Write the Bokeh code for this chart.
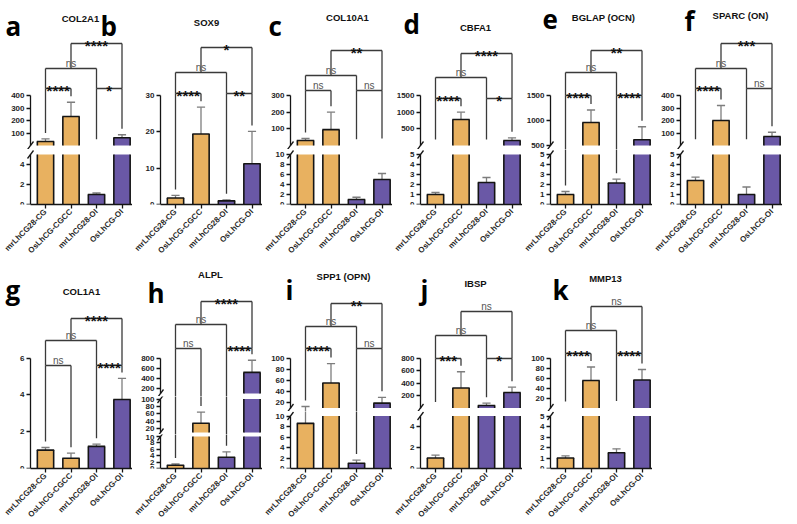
import math
from bokeh.plotting import figure
from bokeh.models import Range1d, FixedTicker, Label, Arrow
from bokeh.layouts import row, column
from bokeh.embed import file_html
from bokeh.resources import INLINE

# ---------------- data ----------------
groups = ["mrLhCG28-CG", "OsLhCG-CGCC", "mrLhCG28-OI", "OsLhCG-OI"]
genes = ["COL2A1", "SOX9", "COL10A1", "CBFA1", "BGLAP (OCN)", "SPARC (ON)",
         "COL1A1", "ALPL", "SPP1 (OPN)", "IBSP", "MMP13"]
letters = ["a", "b", "c", "d", "e", "f", "g", "h", "i", "j", "k"]
comparisons = [(0, 1), (2, 3), (0, 2), (1, 3)]
comparison_level = [0, 0, 1, 2]

col2a1_mean = [32, 232, 1.0, 62]
col2a1_sd = [21, 114, 0.15, 24]
col2a1_sig = ["****", "*", "ns", "****"]

sox9_mean = [1.8, 19.4, 1.0, 11.2]
sox9_sd = [0.7, 7.4, 0.3, 8.9]
sox9_sig = ["****", "**", "ns", "*"]

col10a1_mean = [30, 95, 1.0, 5.0]
col10a1_sd = [12, 105, 0.45, 1.2]
col10a1_sig = ["ns", "ns", "ns", "**"]

cbfa1_mean = [1.0, 780, 2.2, 150]
cbfa1_sd = [0.2, 220, 0.5, 80]
cbfa1_sig = ["****", "*", "ns", "****"]

bglap_mean = [1.0, 960, 2.15, 615]
bglap_sd = [0.3, 250, 0.38, 260]
bglap_sig = ["****", "****", "ns", "**"]

sparc_mean = [2.4, 200, 1.0, 72]
sparc_sd = [0.33, 120, 0.75, 34]
sparc_sig = ["****", "ns", "ns", "***"]

col1a1_mean = [1.0, 0.56, 1.2, 3.75]
col1a1_sd = [0.14, 0.27, 0.12, 1.14]
col1a1_sig = ["ns", "****", "ns", "****"]

alpl_mean = [1.0, 35, 3.5, 516]
alpl_sd = [0.4, 30, 1.7, 240]
alpl_sig = ["ns", "****", "ns", "****"]

spp1_mean = [8.6, 55, 1.0, 18.7]
spp1_sd = [4.1, 35, 0.6, 10.5]
spp1_sig = ["****", "ns", "ns", "**"]

ibsp_mean = [1.0, 320, 40, 249]
ibsp_sd = [0.28, 260, 37, 85]
ibsp_sig = ["***", "*", "ns", "ns"]

mmp13_mean = [1.0, 55, 1.5, 56]
mmp13_sd = [0.2, 27, 0.37, 21]
mmp13_sig = ["****", "****", "ns", "ns"]

means = [col2a1_mean, sox9_mean, col10a1_mean, cbfa1_mean, bglap_mean, sparc_mean,
         col1a1_mean, alpl_mean, spp1_mean, ibsp_mean, mmp13_mean]
sds = [col2a1_sd, sox9_sd, col10a1_sd, cbfa1_sd, bglap_sd, sparc_sd,
       col1a1_sd, alpl_sd, spp1_sd, ibsp_sd, mmp13_sd]
sigs = [col2a1_sig, sox9_sig, col10a1_sig, cbfa1_sig, bglap_sig, sparc_sig,
        col1a1_sig, alpl_sig, spp1_sig, ibsp_sig, mmp13_sig]

# axis segments per panel (value ranges + tick values), bottom segment first
axis_segments = [
    [(0, 5, [0, 2, 4]), (0, 400, [100, 200, 300, 400])],
    [(0, 30, [0, 10, 20, 30])],
    [(0, 10, [0, 2, 4, 6, 8, 10]), (0, 300, [100, 200, 300])],
    [(0, 5, [0, 1, 2, 3, 4, 5]), (0, 1500, [500, 1000, 1500])],
    [(0, 5, [0, 1, 2, 3, 4, 5]), (500, 1500, [500, 1000, 1500])],
    [(0, 5, [0, 1, 2, 3, 4, 5]), (0, 400, [100, 200, 300, 400])],
    [(0, 6, [0, 2, 4, 6])],
    [(0, 10, [0, 2, 4, 6, 8, 10]), (10, 100, [20, 40, 60, 80, 100]), (100, 800, [200, 400, 600, 800])],
    [(0, 10, [0, 2, 4, 6, 8, 10]), (10, 100, [20, 40, 60, 80, 100])],
    [(0, 5, [0, 2, 4]), (0, 800, [200, 400, 600, 800])],
    [(0, 5, [0, 1, 2, 3, 4, 5]), (0, 100, [20, 40, 60, 80, 100])],
]

# ---------------- layout (pixel positions in the page) ----------------
ORANGE = "#e8b160"
PURPLE = "#6a58a6"
bar_colors = [ORANGE, ORANGE, PURPLE, PURPLE]
ERR = "#7d7d7d"
BRK = "#3a3a3a"
INK = "#151515"
FONT = "Liberation Sans"

PXU = 25.5          # px per bar slot
FRAME_W = 102       # width from the y axis to the right end of the x axis
XS = -15 / PXU
XE = XS + FRAME_W / PXU
BW = 0.64
CAP = 0.16

ROWS = [dict(top=0, zero=204, border=56), dict(top=260, zero=467, border=50)]


def col_canvas_left(c):
    return 0 if c == 0 else 132 + (c - 1) * 130


def col_border(c):
    return 30 if c == 0 else 28


layout = [
    dict(col=0, row=0, spans=[(204, 154), (145, 95)], splits=[149], levels=[88, 68, 43], title=(80, 18), letter=(5, 25)),
    dict(col=1, row=0, spans=[(204, 95)], splits=[], levels=[93, 72, 47], title=(206, 22), letter=(100, 25)),
    dict(col=2, row=0, spans=[(204, 154), (145, 95)], splits=[149], levels=[90, 75, 50], title=(347, 17), letter=(268, 25)),
    dict(col=3, row=0, spans=[(204, 154), (145, 95)], splits=[149], levels=[98, 77, 53], title=(475, 27), letter=(403, 23)),
    dict(col=4, row=0, spans=[(204, 154), (145, 95)], splits=[149], levels=[95, 72, 50], title=(603, 17), letter=(542, 19)),
    dict(col=5, row=0, spans=[(204, 154), (145, 95)], splits=[149], levels=[88, 68, 43], title=(740, 15), letter=(684, 20)),
    dict(col=0, row=1, spans=[(467, 356.5)], splits=[], levels=[364, 339, 317], title=(81, 290), letter=(5, 288)),
    dict(col=1, row=1, spans=[(467, 435), (431, 397.5), (392, 356.5)], splits=[395, 433], levels=[347, 323, 300], title=(210, 273), letter=(147, 291)),
    dict(col=2, row=1, spans=[(467, 414.5), (406.5, 356.5)], splits=[410], levels=[347, 325, 302], title=(343, 275), letter=(285, 288)),
    dict(col=3, row=1, spans=[(467, 414.5), (406.5, 356.5)], splits=[410], levels=[357, 334, 310], title=(475, 282), letter=(420, 288)),
    dict(col=4, row=1, spans=[(467, 414.5), (406.5, 356.5)], splits=[410], levels=[352, 329, 305], title=(605, 277), letter=(552, 288)),
]


def px_to_x(f, px):
    return f["xs"] + (px - f["fl"]) / PXU


def px_to_y(f, py):
    return f["ys"] + (f["fb"] - py) / f["sc"]


def value_px(v, segs, spans):
    n = len(segs)
    for k in range(n - 1, -1, -1):
        lo, hi, _ = segs[k]
        plo, phi = spans[k]
        if v >= lo or k == 0:
            if k < n - 1 and v > hi:
                return phi
            return plo - (v - lo) * (plo - phi) / (hi - lo)
    return spans[0][0]


def style_axis(ax):
    ax.axis_line_color = INK
    ax.axis_line_width = 1.3
    ax.major_tick_line_color = INK
    ax.major_tick_line_width = 1.3
    ax.major_tick_out = 4
    ax.major_tick_in = 0
    ax.minor_tick_out = 0
    ax.minor_tick_in = 0
    ax.major_label_text_font = FONT
    ax.major_label_text_font_size = "8px"
    ax.major_label_text_font_style = "bold"
    ax.major_label_text_color = "#1f1f1f"
    ax.major_label_standoff = 2


def clean(p):
    p.outline_line_color = None
    p.background_fill_color = "white"
    p.border_fill_color = "white"
    for g in p.xgrid + p.ygrid:
        g.visible = False


col_figs = {}
col_layouts = [[None] * 6, [None] * 5]

for pi in range(len(genes)):
    L = layout[pi]
    c, r = L["col"], L["row"]
    R = ROWS[r]
    segs = axis_segments[pi]
    spans = L["spans"]
    n = len(segs)
    mean, sd, sig = means[pi], sds[pi], sigs[pi]
    x_left = XS - col_border(c) / PXU

    bounds = [R["top"]] + L["splits"] + [R["zero"]]
    figs = []
    for k in range(n):
        lo, hi, ticks = segs[k]
        plo, phi = spans[k]
        ftop, fbot = bounds[n - 1 - k], bounds[n - k]
        sc = (plo - phi) / (hi - lo)
        ys = lo - (fbot - plo) / sc
        ye = hi + (phi - ftop) / sc
        is_bottom = k == 0
        p = figure(frame_width=col_border(c) + FRAME_W, frame_height=int(round(fbot - ftop)),
                   x_range=Range1d(x_left, XE), y_range=Range1d(ys, ye),
                   toolbar_location=None, output_backend="svg", title=None,
                   x_axis_location="below" if is_bottom else None,
                   min_border_left=0, min_border_right=0, min_border_top=0,
                   min_border_bottom=R["border"] if is_bottom else 0)
        clean(p)
        yax = p.yaxis[0]
        yax.fixed_location = XS
        yax.bounds = (lo, hi)
        yax.ticker = FixedTicker(ticks=ticks)
        style_axis(yax)
        if is_bottom:
            xax = p.xaxis[0]
            xax.bounds = (XS, XE)
            xax.ticker = FixedTicker(ticks=[0, 1, 2, 3])
            xax.major_label_overrides = {i: g for i, g in enumerate(groups)}
            xax.major_label_orientation = math.pi / 4
            style_axis(xax)
        own_lo = segs[k - 1][1] if k > 0 else None
        own_hi = hi if k < n - 1 else None
        f = dict(p=p, fl=col_canvas_left(c), xs=x_left, fb=fbot, ys=ys, ye=ye, sc=sc,
                 lo=lo, hi=hi, k=k, plo=plo, phi=phi, own_lo=own_lo, own_hi=own_hi)
        figs.append(f)

    for f in figs:
        p = f["p"]
        lo, hi, k = f["lo"], f["hi"], f["k"]
        own_lo, own_hi = f["own_lo"], f["own_hi"]
        is_top = k == n - 1
        # error bars, split across the axis segments
        ex, ey0, ey1, cx, cy = [], [], [], [], []
        for i, (m, s) in enumerate(zip(mean, sd)):
            t = m + s
            if own_lo is not None and t <= own_lo:
                continue
            if own_hi is not None and m > own_hi:
                continue
            y0 = m if (own_lo is None or m > own_lo) else f["ys"] - 1
            t_in = own_hi is None or t <= own_hi
            y1 = t if t_in else f["ye"] + 1
            ex.append(i); ey0.append(y0); ey1.append(y1)
            if t_in:
                cx.append(i); cy.append(t)
        if ex:
            p.segment(x0=ex, y0=ey0, x1=ex, y1=ey1, line_color=ERR, line_width=1.3)
        if cx:
            p.segment(x0=[i - CAP for i in cx], y0=cy, x1=[i + CAP for i in cx], y1=cy,
                      line_color=ERR, line_width=1.3)
        # bars
        bx, btop, bcol, real = [], [], [], []
        for i, v in enumerate(mean):
            if own_lo is not None and v <= own_lo:
                continue
            inside = is_top or v <= hi
            bx.append(i)
            btop.append(v if inside else hi)
            bcol.append(bar_colors[i])
            real.append(inside)
        if bx:
            p.vbar(x=bx, width=BW, bottom=lo, top=btop, fill_color=bcol, line_color=None)
            p.segment(x0=[x - BW / 2 for x in bx], y0=[lo] * len(bx), x1=[x - BW / 2 for x in bx], y1=btop,
                      line_color=INK, line_width=1.6)
            p.segment(x0=[x + BW / 2 for x in bx], y0=[lo] * len(bx), x1=[x + BW / 2 for x in bx], y1=btop,
                      line_color=INK, line_width=1.6)
            tx = [x for x, rr in zip(bx, real) if rr]
            tt = [t for t, rr in zip(btop, real) if rr]
            if tx:
                p.segment(x0=[x - BW / 2 - 0.02 for x in tx], y0=tt, x1=[x + BW / 2 + 0.02 for x in tx], y1=tt,
                          line_color=INK, line_width=1.6)
        # axis break marks
        marks = []
        if k > 0:
            marks.append(f["plo"])
        if k < n - 1:
            marks.append(f["phi"])
        ax_px = f["fl"] + col_border(c)
        for py in marks:
            p.add_layout(Arrow(end=None, x_start=px_to_x(f, ax_px - 3), y_start=px_to_y(f, py + 4),
                               x_end=px_to_x(f, ax_px + 3), y_end=px_to_y(f, py - 4),
                               line_color=INK, line_width=1.3))

    # significance brackets (drawn in every figure of the column; each clips its own part)
    hx0, hx1, hy, legs = [], [], [], []
    for m, (i, j) in enumerate(comparisons):
        lev = comparison_level[m]
        lp = L["levels"][lev]
        hx0.append(i); hx1.append(j); hy.append(lp)
        for kk in (i, j):
            cover = [comparison_level[q] for q, (a2, b2) in enumerate(comparisons)
                     if comparison_level[q] < lev and a2 <= kk <= b2]
            if cover:
                stop = L["levels"][max(cover)]
            else:
                stop = max(value_px(mean[kk] + sd[kk], segs, spans) - 6, lp + 4)
            legs.append((kk, lp, stop))
    for f in figs:
        p = f["p"]
        p.segment(x0=hx0, y0=[px_to_y(f, v) for v in hy], x1=hx1, y1=[px_to_y(f, v) for v in hy],
                  line_color=BRK, line_width=1.3)
        p.segment(x0=[g[0] for g in legs], y0=[px_to_y(f, g[1]) for g in legs],
                  x1=[g[0] for g in legs], y1=[px_to_y(f, g[2]) for g in legs],
                  line_color=BRK, line_width=1.3)

    ft = figs[-1]
    pt = ft["p"]
    for m, (i, j) in enumerate(comparisons):
        lp = L["levels"][comparison_level[m]]
        s = sig[m]
        if s == "ns":
            pt.add_layout(Label(x=(i + j) / 2, y=px_to_y(ft, lp - 5), text=s, text_align="center",
                                text_baseline="alphabetic", text_font=FONT, text_font_size="10px",
                                text_color="#555555"))
        else:
            pt.add_layout(Label(x=(i + j) / 2, y=px_to_y(ft, lp + 2), text=s, text_align="center",
                                text_baseline="alphabetic", text_font=FONT, text_font_size="15px",
                                text_font_style="bold", text_color="#111111"))
    tx, ty = L["title"]
    pt.add_layout(Label(x=px_to_x(ft, tx), y=px_to_y(ft, ty), text=genes[pi], text_align="center",
                        text_baseline="middle", text_font=FONT, text_font_size="9.5px",
                        text_font_style="bold", text_color="#111111"))

    col_figs[(r, c)] = ft
    col_layouts[r][c] = column(*[f["p"] for f in reversed(figs)])

# panel letters: drawn in the top figure of whichever column holds them
for pi in range(len(genes)):
    L = layout[pi]
    r = L["row"]
    lx, ly = L["letter"]
    ncols = 6 if r == 0 else 5
    cc = max(c for c in range(ncols) if col_canvas_left(c) <= lx)
    f = col_figs[(r, cc)]
    f["p"].add_layout(Label(x=px_to_x(f, lx), y=px_to_y(f, ly), text=letters[pi], text_align="left",
                            text_baseline="alphabetic", text_font="Open Sans", text_font_size="26px",
                            text_font_style="bold", text_color="#000000"))

page = column(row(*col_layouts[0]), row(*col_layouts[1]))
open("out.html", "w").write(file_html(page, INLINE, "qPCR panels"))
